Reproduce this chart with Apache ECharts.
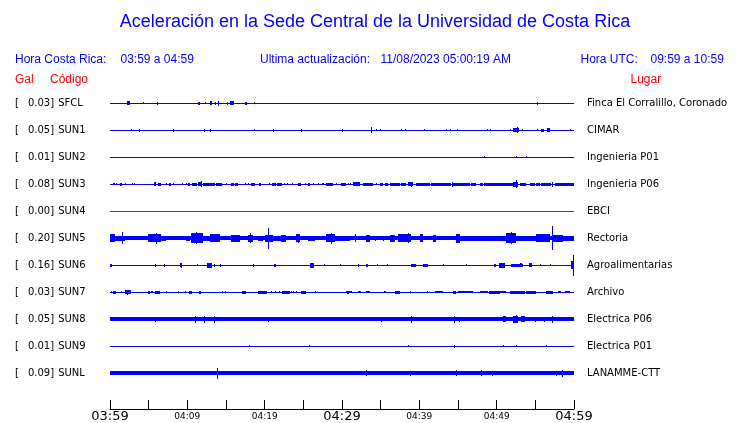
<!DOCTYPE html>
<html>
<head>
<meta charset="utf-8">
<script src="https://cdn.jsdelivr.net/npm/echarts@6/dist/echarts.min.js"></script>
<style>
html,body{margin:0;padding:0;background:#fff;}
#chart{width:740px;height:423px;}
</style>
</head>
<body>
<div id="chart"></div>
<script>
// ---------- DATA ----------
const titleText = 'Aceleración en la Sede Central de la Universidad de Costa Rica';
const localLabel = 'Hora Costa Rica:';
const localRange = '03:59 a 04:59';
const updateLabel = 'Ultima actualización:';
const updateValue = '11/08/2023 05:00:19 AM';
const utcLabel = 'Hora UTC:';
const utcRange = '09:59 a 10:59';
const colHeaders = ['Gal', 'Código', 'Lugar'];

const stationCodes = ['SFCL','SUN1','SUN2','SUN3','SUN4','SUN5','SUN6','SUN7','SUN8','SUN9','SUNL'];
const peakGal = ['0.03','0.05','0.01','0.08','0.00','0.20','0.16','0.03','0.05','0.01','0.09'];
const places = ['Finca El Corralillo, Coronado','CIMAR','Ingenieria P01','Ingenieria P06','EBCI','Rectoria','Agroalimentarias','Archivo','Electrica P06','Electrica P01','LANAMME-CTT'];

// time axis: minutes after 03:59, labels every 10 min
const timeLabels = ['03:59','04:09','04:19','04:29','04:39','04:49','04:59'];

// background (noise) half-amplitude for each trace, relative units
const baseAmp = [0.5,0.5,0.5,0.5,0.5,2.0,0.5,0.5,2.0,0.5,2.2];

// bursts: [startMin, endMin, halfAmplitude]
const evSFCL = [[2.20,2.55,2],[4.27,4.27,1],[6.08,6.08,1.5],[11.34,11.64,1.5],[12.28,12.28,1.2],[12.93,13.19,2],[13.54,13.76,1.5],[13.97,14.09,2.5],[15.09,15.31,1.5],[15.57,16.00,2],[17.51,17.77,1.5],[18.62,18.62,1],[55.27,55.27,1.5]];
const evSUN1 = [[2.72,2.72,1],[3.75,3.75,1.5],[8.15,8.15,1.5],[12.12,12.34,1.5],[12.93,12.93,1.5],[18.62,18.62,0.8],[21.08,21.08,1.3],[24.66,24.66,1.5],[29.96,30.18,1.5],[33.71,33.71,3],[34.40,34.40,1],[34.91,34.91,1.2],[37.63,37.63,1.2],[38.15,38.15,1.2],[40.60,40.60,1],[43.41,43.41,1.2],[43.93,43.93,1.2],[44.87,44.87,1.2],[48.71,48.71,1.2],[49.14,49.14,1.2],[51.78,51.78,1],[52.16,52.85,2],[52.59,52.59,3],[53.33,53.33,1.2],[55.27,55.27,1],[55.73,56.08,1.5],[56.51,56.95,2],[59.44,59.44,1.2]];
const evSUN2 = [[48.32,48.32,0.8],[52.46,52.46,0.8],[53.75,53.75,0.8]];
const evSUN3 = [[0.39,0.61,1.2],[0.83,0.83,1],[1.34,1.55,1.5],[1.90,1.90,1],[2.84,2.84,1.2],[3.16,3.16,1.2],[5.69,5.91,2],[6.26,6.59,1.5],[7.29,7.29,1.2],[7.59,7.94,1.5],[8.15,8.15,1.2],[9.31,9.31,1],[9.79,9.79,1],[10.09,10.40,1.3],[10.60,11.25,1.5],[11.43,11.82,2],[11.77,11.77,3],[12.03,13.54,1.5],[13.76,14.48,1.5],[15.05,15.05,1],[15.61,16.00,1.5],[16.16,16.60,1.5],[17.51,17.51,1],[17.90,17.90,1.2],[18.19,18.71,1.5],[19.27,19.58,1.3],[20.56,20.56,1],[20.95,21.52,1.5],[21.65,22.20,1.5],[22.50,22.50,1],[22.85,22.85,1],[23.59,23.59,1],[24.27,24.75,1.5],[25.18,25.18,1],[25.60,25.91,1.3],[26.25,26.25,1],[26.90,26.90,1],[27.41,27.63,1.2],[27.98,28.84,1.5],[29.28,29.28,1],[29.92,30.48,1.3],[30.78,30.78,1],[31.00,31.00,1],[31.42,32.29,2],[32.72,34.01,1.5],[34.45,34.45,1],[34.87,35.30,1.3],[35.52,35.95,1.3],[36.17,37.46,1.3],[37.68,38.33,1.3],[38.53,39.18,2],[38.88,38.88,2.7],[39.62,41.34,1.3],[41.56,44.15,1.5],[44.22,44.22,2.5],[44.35,46.51,1.3],[46.73,47.38,1.3],[47.81,48.23,1.3],[48.32,52.11,1.3],[52.11,52.76,2.5],[52.46,52.46,4],[52.98,53.85,1.5],[54.27,54.92,1.3],[55.14,55.57,1.5],[55.78,57.08,1.5],[57.15,57.15,2.5],[57.50,60,1.3]];
const evSUN4 = [];
const evSUN5 = [[0,0.61,4],[0.61,1.03,2.5],[1.03,1.90,2.7],[1.60,1.60,6],[4.91,6.65,4],[6.00,6.00,5.3],[6.65,7.29,2.7],[7.29,9.88,2.2],[9.88,10.31,2.7],[10.53,12.03,5],[11.17,11.17,6],[12.03,12.89,2.7],[12.89,14.18,4],[14.18,15.70,2.2],[15.70,16.77,3.3],[17.85,18.49,3.3],[18.06,18.06,5],[19.14,19.78,2.7],[20.00,21.08,3.3],[20.43,20.43,10.5],[21.08,22.16,2.7],[22.16,22.81,3.3],[22.81,24.10,2.2],[24.10,24.53,4],[24.31,24.31,4.5],[25.60,26.47,2.7],[27.98,29.06,4],[28.63,28.63,5.7],[29.06,31.00,2.5],[31.64,31.64,4],[33.15,33.58,3.3],[34.23,34.23,2.7],[35.30,35.30,2.7],[36.17,36.81,3.3],[37.24,38.97,4],[38.53,38.53,5],[40.05,40.47,4],[41.77,42.21,3.3],[42.21,44.79,2.2],[44.79,45.22,4.7],[45.22,46.94,2.5],[46.94,48.67,2.7],[48.67,51.26,2.5],[51.26,52.55,5],[51.91,51.91,6],[52.55,55.14,2.5],[55.14,56.86,4],[57.15,57.15,12],[57.28,58.58,3.3],[58.58,60,2.5]];
const evSUN6 = [[0,0.31,1.7],[5.78,5.78,1.3],[6.94,7.16,1.5],[9.01,9.36,2],[9.23,9.23,2.7],[11.25,11.25,1],[12.54,13.24,2.7],[13.45,13.45,1.3],[14.19,14.41,1.5],[18.45,18.67,1.5],[21.17,21.43,1.5],[25.91,26.38,2.7],[27.63,27.63,1],[29.79,29.79,1],[32.07,32.07,1.5],[33.06,33.36,1.5],[34.53,34.53,1],[35.87,35.87,1],[38.97,39.53,1.5],[40.47,41.12,1.5],[43.06,43.06,1],[46.00,46.00,1],[49.62,49.96,1.5],[50.30,51.04,2.7],[51.81,53.40,1.5],[52.98,53.33,2],[54.18,54.62,2],[55.57,55.57,1],[56.86,56.86,1],[59.57,60,4],[59.83,59.83,10.5]];
const evSUN7 = [[0.09,0.09,1],[0.39,0.83,1.5],[1.38,1.38,1],[1.90,2.77,2],[2.20,2.20,2.7],[4.91,5.13,1.5],[5.35,5.56,1.2],[5.78,6.52,1.5],[7.29,7.29,1.2],[8.79,8.79,1.2],[9.75,9.75,1],[10.18,10.60,1.5],[11.51,11.73,1.5],[14.53,14.53,1.2],[14.83,14.83,1],[17.12,17.55,1.5],[19.14,20.35,1.5],[20.87,20.87,1.2],[21.39,21.39,1.2],[21.81,21.81,1.2],[22.29,23.24,1.5],[23.46,23.46,1],[23.66,23.66,1],[24.10,24.10,1],[24.66,25.40,1.5],[26.56,26.56,1.2],[30.57,31.34,1.2],[30.65,30.90,1.5],[32.07,32.51,1],[33.15,33.58,1],[35.43,35.74,1.2],[36.90,37.55,1.5],[38.84,38.84,1.2],[40.99,40.99,1],[41.99,43.06,1.2],[44.35,44.79,1.5],[45.00,46.94,1.2],[47.81,48.88,1.2],[49.01,50.39,1.5],[50.39,51.26,1.2],[51.69,53.62,1.5],[53.85,55.14,1.5],[56.43,57.28,1.5],[57.93,58.37,1],[58.80,59.53,1]];
const evSUN8 = [[5.78,5.78,2.7],[10.95,11.17,3.3],[12.16,12.16,3.3],[13.45,13.45,3.3],[20.43,20.43,2.5],[35.00,35.00,2.7],[38.97,38.97,3.3],[44.44,44.44,3.3],[45.09,45.09,2.7],[50.82,51.26,3],[52.11,52.76,3.3],[52.55,52.55,4],[53.20,53.62,3],[54.92,54.92,2.7],[56.12,56.12,2.7],[57.15,57.15,3.3]];
const evSUN9 = [[17.97,17.97,1],[25.73,25.73,1],[38.53,38.53,1],[44.44,44.44,1.5],[50.82,50.82,1],[52.46,52.46,1],[56.43,56.43,1]];
const evSUNL = [[13.84,13.84,5.7],[33.15,33.15,3],[38.75,38.75,2.7],[44.70,44.70,3],[48.03,48.03,3],[49.40,49.40,2.7],[57.63,57.63,2.7],[58.50,58.50,3.3]];

const traceEvents = [evSFCL, evSUN1, evSUN2, evSUN3, evSUN4, evSUN5, evSUN6, evSUN7, evSUN8, evSUN9, evSUNL];

// ---------- STYLE ----------
const BLUE = '#0000ff', RED = '#ff0000';
const traceColors = stationCodes.map(c => c === 'SUN4' ? RED : BLUE);
const AMP_PER_ROW = 27; // amplitude units per trace spacing

// build items: [row, t0, t1, amp]
const items = [];
traceEvents.forEach((evs, row) => {
  items.push([row, 0, 60, baseAmp[row]]);
  evs.forEach(e => items.push([row, e[0], e[1], e[2]]));
});

function renderItem(params, api) {
  const row = api.value(0), t0 = api.value(1), t1 = api.value(2), a = api.value(3);
  const yc = row + 1;
  const pA = api.coord([t0, yc]);
  const pB = api.coord([t1, yc]);
  const half = api.size([0, a / AMP_PER_ROW])[1];
  let x = Math.round(pA[0]);
  let w = Math.max(1, Math.round(pB[0]) - x);
  const h = Math.max(1, Math.round(2 * half));
  const y = Math.round(pA[1] - h / 2);
  return {
    type: 'rect',
    shape: { x: x, y: y, width: w, height: h },
    style: { fill: traceColors[row] }
  };
}

const chart = echarts.init(document.getElementById('chart'), null, { renderer: 'canvas' });
const FONT_HDR = 'Liberation Sans, Arial, sans-serif';
function txt(x, y, text, color, align, size) {
  return {
    type: 'text', x: x, y: y,
    style: { text: text, fill: color, fontFamily: FONT_HDR, fontSize: size || 12, textAlign: align || 'left', textVerticalAlign: 'middle' }
  };
}

const ROWMAX = 12 + 1/3;
chart.setOption({
  animation: false,
  backgroundColor: '#fff',
  grid: { left: 110, width: 464, top: 76, height: 333 },
  xAxis: {
    type: 'value', min: 0, max: 60, interval: 5, position: 'bottom',
    axisLine: { onZero: false, lineStyle: { color: '#000', width: 1 } },
    axisTick: { inside: true, length: 9, lineStyle: { color: '#000' } },
    splitLine: { show: false },
    axisLabel: {
      margin: 1,
      showMinLabel: true, showMaxLabel: true,
      formatter: v => {
        if (v % 10 !== 0) return '';
        const i = v / 10;
        return (i % 3 === 0 ? '{big|' : '{sm|') + timeLabels[i] + '}';
      },
      rich: {
        big: { fontFamily: 'DejaVu Sans', fontSize: 13, color: '#000', lineHeight: 13 },
        sm: { fontFamily: 'DejaVu Sans', fontSize: 9, color: '#000', lineHeight: 13 }
      }
    }
  },
  yAxis: [
    {
      type: 'value', min: 0, max: ROWMAX, interval: 1, inverse: true, position: 'left',
      axisLine: { show: false }, axisTick: { show: false }, splitLine: { show: false },
      axisLabel: {
        align: 'left', margin: 95, showMaxLabel: false,
        formatter: v => {
          const i = Math.round(v) - 1;
          if (Math.abs(v - Math.round(v)) > 1e-6 || i < 0 || i > 10) return '';
          return '{b|[}{v|' + peakGal[i] + ']}{c| ' + stationCodes[i] + '}';
        },
        rich: {
          b: { fontFamily: 'DejaVu Sans', fontSize: 10, color: '#000', width: 12 },
          v: { fontFamily: 'DejaVu Sans', fontSize: 10, color: '#000', width: 28, align: 'right' },
          c: { fontFamily: 'DejaVu Sans', fontSize: 10, color: '#000' }
        }
      }
    },
    {
      type: 'value', min: 0, max: ROWMAX, interval: 1, inverse: true, position: 'right',
      axisLine: { show: false }, axisTick: { show: false }, splitLine: { show: false },
      axisLabel: {
        align: 'left', margin: 13, showMaxLabel: false,
        fontFamily: 'DejaVu Sans', fontSize: 10, color: '#000',
        formatter: v => {
          const i = Math.round(v) - 1;
          if (Math.abs(v - Math.round(v)) > 1e-6 || i < 0 || i > 10) return '';
          return places[i];
        }
      }
    }
  ],
  series: [{
    type: 'custom',
    renderItem: renderItem,
    data: items,
    encode: { x: [1, 2], y: 0 },
    xAxisIndex: 0, yAxisIndex: 0,
    silent: true
  }],
  graphic: [
    txt(375, 22, titleText, BLUE, 'center', 18),
    txt(15, 60, localLabel, BLUE),
    txt(120.5, 60, localRange, BLUE),
    txt(260, 60, updateLabel, BLUE),
    txt(380.5, 60, updateValue, BLUE),
    txt(580.5, 60, utcLabel, BLUE),
    txt(650.5, 60, utcRange, BLUE),
    txt(15, 80, colHeaders[0], RED),
    txt(50, 80, colHeaders[1], RED),
    txt(630.5, 80, colHeaders[2], RED)
  ]
});
</script>
</body>
</html>
